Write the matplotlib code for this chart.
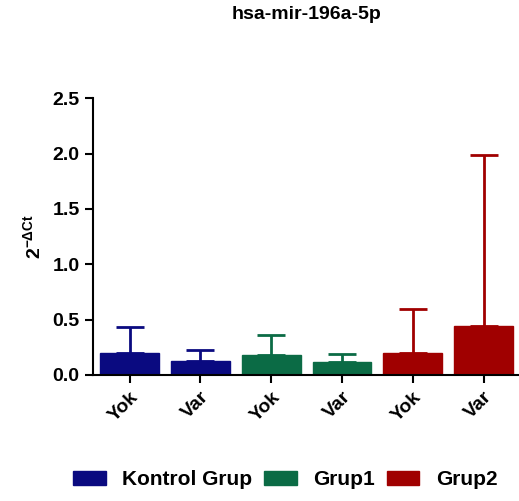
import matplotlib
matplotlib.use("Agg")
import matplotlib.pyplot as plt
from matplotlib.patches import Patch

plt.rcParams['font.family'] = ['Liberation Sans', 'DejaVu Sans']
plt.rcParams['font.weight'] = 'bold'
plt.rcParams['mathtext.fontset'] = 'custom'
plt.rcParams['mathtext.rm'] = 'Liberation Sans:bold'
plt.rcParams['mathtext.bf'] = 'Liberation Sans:bold'
plt.rcParams['mathtext.default'] = 'bf'

# mean and upper SD for each subgroup
labels = ["Yok", "Var", "Yok", "Var", "Yok", "Var"]
means = [0.20, 0.13, 0.18, 0.12, 0.20, 0.44]
upper_err = [0.23, 0.10, 0.18, 0.07, 0.40, 1.55]
groups = ["Kontrol Grup", "Grup1", "Grup2"]
group_colors = ["#0a0a80", "#0b6b45", "#a00000"]
bar_colors = [group_colors[i // 2] for i in range(len(means))]

fig = plt.figure(figsize=(5.19, 5.01), dpi=100)
ax = fig.add_axes([0.179, 0.2515, 0.821, 0.5523])

x = list(range(len(means)))
for xi, m, e, c in zip(x, means, upper_err, bar_colors):
    ax.bar(xi, m, width=0.83, color=c, edgecolor=c, zorder=2)
    ax.errorbar(xi, m, yerr=[[0], [e]], color=c, elinewidth=2,
                capsize=10, capthick=2, zorder=1)

ax.set_xlim(-0.52, 5.5)
ax.set_ylim(0, 2.5)
ax.set_yticks([0, 0.5, 1.0, 1.5, 2.0, 2.5])
ax.set_yticklabels(["0.0", "0.5", "1.0", "1.5", "2.0", "2.5"])
ax.set_xticks(x)
ax.set_xticklabels(labels, rotation=45, ha='right', rotation_mode='anchor')

for side in ['top', 'right']:
    ax.spines[side].set_visible(False)
for side in ['left', 'bottom']:
    ax.spines[side].set_linewidth(1.5)
ax.tick_params(axis='both', width=1.5, length=6, labelsize=14)

ax.set_ylabel(r"$2^{-\Delta Ct}$", fontsize=14, labelpad=6)
fig.text(0.59, 0.972, "hsa-mir-196a-5p", ha='center', va='center',
         fontsize=14, fontweight='bold')

handles = [Patch(facecolor=c, edgecolor=c) for c in group_colors]
fig.legend(handles, groups, loc='center', bbox_to_anchor=(0.55, 0.042),
           ncol=3, frameon=False, fontsize=15, handlelength=1.55,
           handleheight=0.63, columnspacing=0.57, handletextpad=0.8)

fig.savefig("out.png", dpi=100)
